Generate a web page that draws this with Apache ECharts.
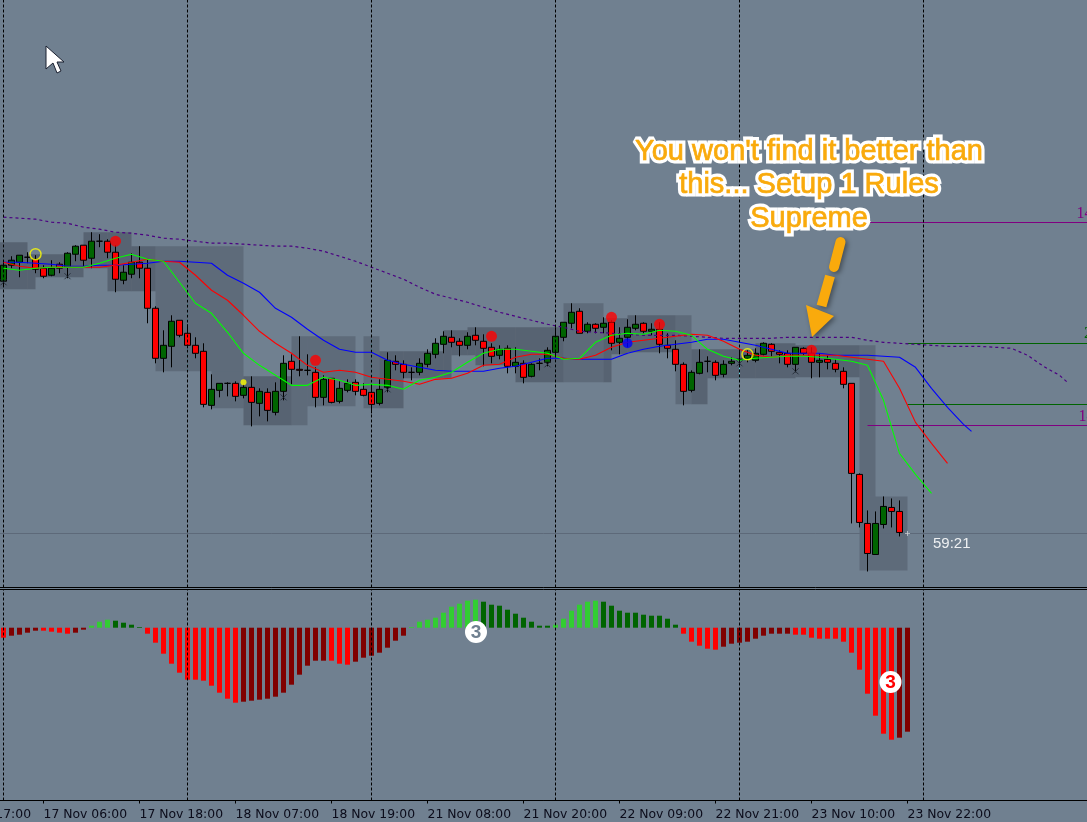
<!DOCTYPE html>
<html><head><meta charset="utf-8">
<style>html,body{margin:0;padding:0;background:#708090;overflow:hidden}#c{width:1087px;height:822px}</style>
<script src="https://cdn.jsdelivr.net/npm/echarts@6/dist/echarts.min.js"></script>
</head><body><div id="c"></div>
<script>
const opens=[306,322,325,330,328,319,312,323,320,333,342,329,346,346,335,307,313,325,319,279,229,241,267,254,242,236,182,197,204,204,192,200,184,195,175,196,226,218,217,215,190,209,186,197,205,198,195,184,200,226,223,215,215,223,233,243,250,246,242,252,246,240,232,239,221,224,211,224,225,235,250,264,276,256,263,260,265,245,250,259,264,256,258,242,238,223,197,214,226,225,213,224,228,229,227,233,243,235,234,223,239,234,225,228,224,216,204,113,64,33,63,80,76];
const closes=[322,327,332,330,318,311,319,319,334,341,327,346,346,335,308,315,325,319,279,229,242,266,252,242,234,183,198,204,204,191,200,185,196,177,196,224,218,217,217,190,208,185,199,204,196,192,183,198,227,223,215,215,224,234,244,251,245,242,251,247,239,231,238,221,225,210,223,224,237,251,265,275,254,263,259,264,244,249,260,263,256,258,243,239,223,196,215,225,226,212,223,226,228,232,234,244,236,233,223,240,234,225,227,225,218,203,114,65,34,64,81,76,55];
const lows=[302,319,310,324,314,309,311,314,309,326,321,319,340,329,295,303,309,309,264,224,215,220,250,239,229,180,178,190,191,186,189,161,171,166,172,187,203,211,212,180,182,184,184,195,192,191,174,182,195,217,209,207,212,220,229,234,240,231,238,242,221,224,228,214,214,204,210,217,221,230,246,259,254,254,254,254,237,233,240,257,254,252,234,229,216,182,195,213,215,207,210,222,222,225,225,232,231,224,220,215,232,209,210,218,215,199,64,60,16,33,59,60,51];
const highs=[325,331,332,335,332,322,327,325,335,342,342,355,353,348,342,322,334,341,328,281,257,272,267,263,250,244,213,204,205,206,203,211,199,199,205,232,233,251,233,220,212,209,206,208,208,204,202,208,235,232,227,220,229,238,249,256,257,249,255,260,253,244,242,242,240,227,224,229,240,260,265,284,279,265,264,270,267,260,268,272,265,264,265,254,247,225,217,238,231,227,227,230,237,237,239,245,244,237,237,240,240,240,234,232,228,220,204,114,77,76,91,89,87];

// moving averages, read every second bar
const blueMA=[325,325,324,323,321,321,322,322,323,324,326,326,325,324,312,304,295,279,270,258,247,238,235,235,227,223,220,217,216,216,216,219,221,225,229,229,228,228,228,234,238,241,243,245,248,248,245,242,238,234,234,234,232,232,232,231,230,220,199,180,163];
const redMA=[325,321,319,320,320,320,320,322,325,328,326,325,312,297,287,272,256,244,234,222,215,217,215,210,208,206,203,208,209,214,222,223,230,233,233,229,228,232,240,245,247,249,251,253,252,246,238,232,230,232,232,232,232,230,228,226,199,165,144,124];
const greenMA=[319,317,319,320,320,320,324,329,333,328,326,305,284,274,255,234,222,212,202,202,210,207,202,203,202,198,207,210,215,225,234,238,238,236,234,228,229,245,252,254,253,257,256,252,238,231,227,229,230,231,231,230,228,226,222,187,134,113,94];
const purpleMA=[370,369,368,365,364,360,358,355,354,352,349,348,346,344,344,343,342,341,341,339,336,331,326,320,314,308,300,293,289,285,280,275,271,267,263,260,256,255,254,253,252,252,252,251,250,249,249,249,249,250,250,250,250,250,247,245,244,243,242,241,241,241,240,239,232,221,212];
const blueEnd=[121,156], purpleEnd=[133.4,205];

const histValues=[-10,-8,-7,-5,-3,-3,-4,-5,-6,-5,-2,2,6,8,7,5,3,0.7,-6,-15,-26,-36,-45,-52,-52,-53,-58,-65,-71,-75,-74,-73,-72,-71,-69,-65,-57,-47,-38,-33,-33,-33,-36,-37,-34,-30,-28,-25,-20,-13,-8,0.7,6,8,10,15,21,24,27,28,26,23,22,18,14,10,6,2,2,3,9,17,23,26,27,26,22,17,15,15,13,12,12,9,3,-6,-14,-18,-21,-22,-19,-16,-15,-14,-11,-8,-6,-6,-6,-7,-7,-10,-11,-11,-11,-14,-25,-42,-66,-88,-106,-112,-110,-104];
const histShade="rddddrrrrddLLLDDDDrrrrrrrrrrrrdddddddddddrrrdddddddLLLLLLLLLDDDDDDDDDLLLLLLDDDDDDDDDDrrrrrdddddddddrrrrrrrrrrrrrdd";
const tickLabels=["16 Nov 17:00","17 Nov 06:00","17 Nov 18:00","18 Nov 07:00","18 Nov 19:00","21 Nov 08:00","21 Nov 20:00","22 Nov 09:00","22 Nov 21:00","23 Nov 10:00","23 Nov 22:00"];

// zones: start bar, end bar, upper price, lower price
const lightZones=[[19,30,341,216],[26,30,216,179],[36,38,251,162],[38,44,251,181],[45,47,251,179],[70,75,284,205],[84,86,272,183],[107,109,242,91],[107,113,91,17]];
const darkZones=[[-1,3,345,298],[3,4,333,298],[4,10,333,310],[10,13,355,319],[13,16,355,296],[16,19,341,296],[30,36,211,162],[47,50,236,179],[50,55,236,209],[55,56,257,209],[56,58,257,232],[58,59,260,232],[59,64,260,222],[64,70,260,205],[75,76,269,205],[76,78,269,233],[78,84,272,235],[86,88,238,183],[88,94,238,209],[94,99,244,209],[99,107,242,210]];
const cyanSegments=[[0,345,298],[23,341,216],[46,251,179],[69,260,205],[92,238,209]];
const gridBars=[0,23,46,69,92,115];
const purpleLevels=[[108,365],[108,162]];
const greenLevels=[[113,243.5],[113,183]];
const lastPrice=54;
const redDots=[[14,346],[39,227],[61,251],[76,270],[82,263],[101,237]];
const blueDots=[[78,244]];
const yellowDots=[[30,205]];
const rings=[[4,333],[93,233]];
const crosses=[[0,305],[8,311],[35,190],[48,198],[68,223],[92,224],[99,216]];
const currentBar=[[113,54]];

const OFFSET=7, TOTAL=143;
const cats=[];for(let k=0;k<TOTAL;k++)cats.push('b'+k);
const at=a=>a.map(d=>[d[0]+OFFSET].concat(d.slice(1)));
const everyTwo=(arr,end)=>{const r=arr.map((v,k)=>[2*k+OFFSET,v]);if(end)r.push([end[0]+OFFSET,end[1]]);return r;};
const showTick=idx=>idx%12===0&&idx<=120;
const SHADE={r:'#ff0000',d:'#800000',L:'#32cd32',D:'#006400'};
const FONT='"DejaVu Sans",sans-serif';
const pad=n=>new Array(n).fill('-');
const candleData=pad(OFFSET).map(()=>['-','-','-','-']).concat(opens.map((o,k)=>[o,closes[k],lows[k],highs[k]]));
const histData=pad(OFFSET).concat(histValues.map((v,k)=>({value:v,itemStyle:{color:SHADE[histShade[k]]}})));

const zoneSeries=(zones,fill,extra)=>Object.assign({type:'custom',xAxisIndex:0,yAxisIndex:0,silent:true,z:1,animation:false,
  encode:{x:0,y:2},data:at(zones),clip:true,
  renderItem:(p,api)=>{const a=api.coord([api.value(0),api.value(2)]),b=api.coord([api.value(1)+OFFSET,api.value(3)]);
    return {type:'rect',shape:{x:a[0],y:a[1],width:b[0]-a[0],height:b[1]-a[1]},style:{fill}};}},extra||{});
const levelSeries=(levels,color)=>({type:'custom',xAxisIndex:0,yAxisIndex:0,silent:true,z:2,animation:false,
  encode:{x:0,y:1},data:at(levels),
  renderItem:(p,api)=>{const a=api.coord([api.value(0),api.value(1)]);const y=Math.round(a[1]-.5)+.5;
    return {type:'line',shape:{x1:a[0],y1:y,x2:1090,y2:y},style:{stroke:color,lineWidth:1}};}});
const maSeries=(arr,end,color,dash,w)=>({type:'line',xAxisIndex:0,yAxisIndex:0,silent:true,z:4,animation:false,symbol:'none',
  data:everyTwo(arr,end),lineStyle:{color,width:w||1.1,type:dash||'solid'}});
const dots=(data,size,style,z)=>({type:'scatter',xAxisIndex:0,yAxisIndex:0,silent:true,z:z||5,animation:false,symbolSize:size,data:at(data),itemStyle:style});
const vLines=gridBars.map(b=>({xAxis:b+OFFSET}));
const vLineOpt=()=>({silent:true,symbol:'none',animation:false,label:{show:false},lineStyle:{color:'#000',width:1,type:[3,2]},data:vLines});

const ORANGE='#f9aa0c';
const annBase={font:'29px "Liberation Sans",Arial,sans-serif',align:'center',verticalAlign:'middle'};
const annUnder=Object.assign({fill:'#ffffff',stroke:'#ffffff',lineWidth:7,lineJoin:'round',shadowBlur:5,shadowColor:'rgba(0,0,0,0.6)',shadowOffsetX:2,shadowOffsetY:2},annBase);
const annOver=Object.assign({fill:ORANGE,stroke:ORANGE,lineWidth:0.7},annBase);
const annotation=(text,x,y)=>[
  {type:'text',x,y,z:20,silent:true,style:Object.assign({text},annUnder)},
  {type:'text',x,y,z:21,silent:true,style:Object.assign({text},annOver)}];
const arrowShadow={shadowBlur:5,shadowColor:'rgba(0,0,0,0.4)',shadowOffsetX:2,shadowOffsetY:2};
const rt=(text,x,y,fill)=>({type:'text',x,y,z:20,silent:true,style:{text,fill,font:'16px "Liberation Serif",serif',align:'left',verticalAlign:'middle'}});
const badge=(cx,cy,fill)=>[{type:'circle',z:20,shape:{cx,cy,r:11},style:{fill:'#fff'}},
  {type:'text',x:cx,y:cy+0.5,z:21,style:{text:'3',fill,font:'bold 19px "Liberation Sans",sans-serif',align:'center',verticalAlign:'middle'}}];

const chart=echarts.init(document.getElementById('c'),null,{renderer:'canvas'});
chart.setOption({
  animation:false,backgroundColor:'#708090',
  grid:[
    {outerBoundsMode:'none',left:-56.5,width:1144,top:-13,height:600.5,show:true,backgroundColor:'transparent',borderColor:'#000',borderWidth:1},
    {outerBoundsMode:'none',left:-56.5,width:1144,top:589.5,height:211,show:true,backgroundColor:'transparent',borderColor:'#000',borderWidth:1}
  ],
  xAxis:[
    {type:'category',gridIndex:0,data:cats,show:false},
    {type:'category',gridIndex:1,data:cats,
     axisLine:{show:true,onZero:false,lineStyle:{color:'#000',width:1}},
     axisTick:{show:true,alignWithLabel:true,length:3,interval:showTick,lineStyle:{color:'#000'}},
     splitLine:{show:false},
     axisLabel:{show:true,interval:showTick,align:'left',margin:8,color:'#0b0b1a',fontFamily:FONT,fontSize:12.4,hideOverlap:false,
       formatter:(v,idx)=>tickLabels[idx/12]||''}}
  ],
  yAxis:[
    {type:'value',gridIndex:0,min:0,max:600,show:false},
    {type:'value',gridIndex:1,min:-172.8,max:38.2,show:false}
  ],
  series:[
    zoneSeries(lightZones,'rgba(40,45,55,0.25)',{markLine:vLineOpt()}),
    zoneSeries(darkZones,'rgba(40,45,55,0.34)'),
    {type:'custom',xAxisIndex:0,yAxisIndex:0,silent:true,z:1,animation:false,encode:{x:0,y:1},data:at(cyanSegments),
     renderItem:(p,api)=>{const a=api.coord([api.value(0),api.value(1)]),b=api.coord([api.value(0),api.value(2)]);
       const x=Math.round(a[0]-.5)+.5;
       return {type:'line',shape:{x1:x,y1:a[1],x2:x,y2:b[1]},style:{stroke:'#5fdce6',lineWidth:1,lineDash:[2,3],lineDashOffset:2}};}},
    levelSeries(purpleLevels,'#800080'),
    levelSeries(greenLevels,'#006400'),
    levelSeries([[-7,lastPrice]],'#5d6979'),
    {type:'candlestick',xAxisIndex:0,yAxisIndex:0,silent:true,z:3,animation:false,barWidth:6,data:candleData,
     itemStyle:{color:'#006400',color0:'#ff0000',borderColor:'#000',borderColor0:'#000',borderColorDoji:'#000',borderWidth:1}},
    maSeries(purpleMA,purpleEnd,'#4b0082',[3,3],1.2),
    maSeries(blueMA,blueEnd,'#0000ff'),
    maSeries(redMA,null,'#ff0000'),
    maSeries(greenMA,null,'#00ff00'),
    dots(redDots,11,{color:'#ff0000'}),
    dots(blueDots,10,{color:'#0000ff'}),
    dots(yellowDots,6,{color:'#ffff00'}),
    dots(rings,11,{color:'transparent',borderColor:'#ffff00',borderWidth:1.5}),
    Object.assign(dots(crosses,6,{color:'transparent',borderColor:'#1c2430',borderWidth:1}),{symbol:'path://M0 0L10 10M10 0L0 10'}),
    Object.assign(dots(currentBar,5,{color:'transparent',borderColor:'#c9cdd2',borderWidth:1}),{symbol:'path://M5 0L5 10M0 5L10 5'}),
    {type:'bar',xAxisIndex:1,yAxisIndex:1,silent:true,animation:false,barWidth:5,z:2,data:histData,markLine:vLineOpt()}
  ],
  graphic:[].concat(
    annotation("You won't find it better than",809,151.5),
    annotation("this... Setup 1 Rules",809,184.5),
    annotation("Supreme",809,218.5),
  [
    {type:'line',z:19,silent:true,shape:{x1:840.5,y1:242,x2:834,y2:267},style:Object.assign({stroke:ORANGE,lineWidth:10,lineCap:'round'},arrowShadow)},
    {type:'line',z:19,silent:true,shape:{x1:830,y1:276,x2:821.5,y2:306},style:Object.assign({stroke:ORANGE,lineWidth:10},arrowShadow)},
    {type:'polygon',z:19,silent:true,shape:{points:[[806,305],[834,316],[812,337]]},style:Object.assign({fill:ORANGE},arrowShadow)},
    {type:'polygon',z:20,silent:true,shape:{points:[[46,46],[46,69],[53,63],[57,73],[61,71],[57,62],[64,62]]},style:{fill:'#fff',stroke:'#1a2030',lineWidth:1}},
    {type:'text',x:933,y:544,z:20,silent:true,style:{text:'59:21',fill:'#eef0f2',font:'15px "Liberation Sans",sans-serif',align:'left',verticalAlign:'middle'}},
    rt('14',1076.5,214,'#800080'),
    rt('14',1078.5,417,'#800080'),
    rt('2',1084,334,'#006400'),
    rt('1',1086,397,'#006400')
  ],badge(476,632,'#708090'),badge(890.5,682,'#ff0000'))
});
</script></body></html>
